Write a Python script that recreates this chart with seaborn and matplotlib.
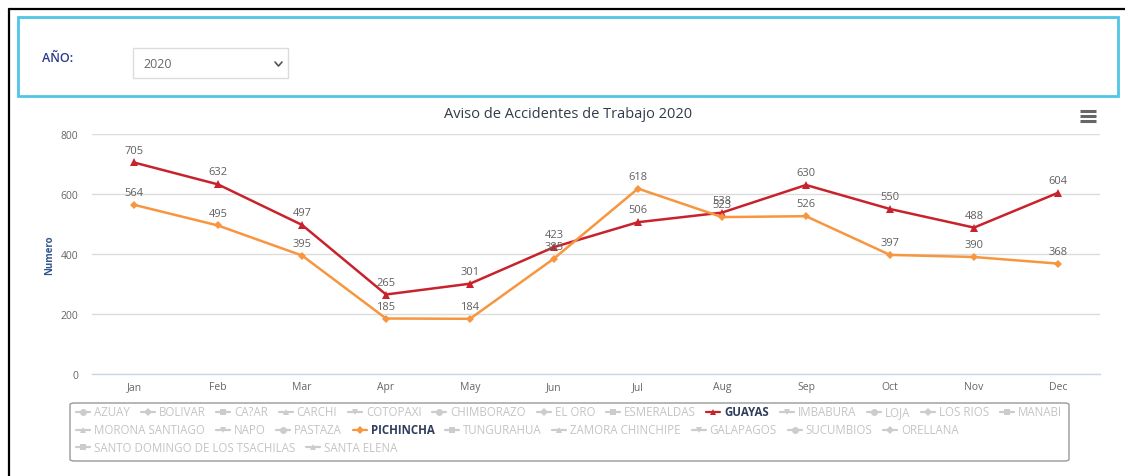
import matplotlib
matplotlib.use("Agg")
import matplotlib.pyplot as plt
import seaborn as sns
import pandas as pd
import numpy as np
from matplotlib.lines import Line2D
from matplotlib.patches import Rectangle, FancyBboxPatch

months = ["Jan", "Feb", "Mar", "Apr", "May", "Jun", "Jul", "Aug", "Sep", "Oct", "Nov", "Dec"]
guayas = [705, 632, 497, 265, 301, 423, 506, 538, 630, 550, 488, 604]
pichincha = [564, 495, 395, 185, 184, 385, 618, 523, 526, 397, 390, 368]
yticks = [0, 200, 400, 600, 800]
provinces_rows = [
    ["AZUAY", "BOLIVAR", "CA?AR", "CARCHI", "COTOPAXI", "CHIMBORAZO", "EL ORO",
     "ESMERALDAS", "GUAYAS", "IMBABURA", "LOJA", "LOS RIOS", "MANABI"],
    ["MORONA SANTIAGO", "NAPO", "PASTAZA", "PICHINCHA", "TUNGURAHUA",
     "ZAMORA CHINCHIPE", "GALAPAGOS", "SUCUMBIOS", "ORELLANA"],
    ["SANTO DOMINGO DE LOS TSACHILAS", "SANTA ELENA"],
]
title = "Aviso de Accidentes de Trabajo 2020"

C_GUAYAS = "#c8232c"
C_PICH = "#f7963f"

sns.set_theme(style="white")
plt.rcParams["font.family"] = ["Open Sans", "DejaVu Sans"]

W, H = 1125, 477
fig = plt.figure(figsize=(W / 100, H / 100), dpi=100)

def fx(x):
    return x / W

def fy(y):
    return 1 - y / H

# outer frame
fig.add_artist(Line2D([fx(9), fx(1125)], [fy(10), fy(10)], color="black", lw=1.6))
fig.add_artist(Line2D([fx(9), fx(9)], [fy(10), fy(477)], color="black", lw=1.6))
# cyan header box
fig.add_artist(Rectangle((fx(18), fy(97)), fx(1118) - fx(18), fy(18) - fy(97),
                         fill=False, edgecolor="#4fc6e6", lw=2.0))
fig.text(fx(42), fy(59), "AÑO:", color="#2b3a8c", fontsize=9, va="center", ha="left",
         fontweight="semibold")
fig.add_artist(Rectangle((fx(133), fy(79)), fx(288) - fx(133), fy(49) - fy(79),
                         fill=False, edgecolor="#dcdcdc", lw=1))
fig.text(fx(143), fy(65), "2020", color="#666666", fontsize=9, va="center", ha="left")
fig.add_artist(Line2D([fx(275), fx(278.5), fx(282)], [fy(63), fy(67), fy(63)],
                      color="#555555", lw=1.2))

# data
df = pd.DataFrame({
    "Mes": months * 2,
    "Numero": guayas + pichincha,
    "Provincia": ["GUAYAS"] * 12 + ["PICHINCHA"] * 12,
})

ax = fig.add_axes([fx(92), fy(375), fx(1100) - fx(92), fy(135) - fy(375)])
sns.lineplot(data=df, x="Mes", y="Numero", hue="Provincia", style="Provincia",
             palette={"GUAYAS": C_GUAYAS, "PICHINCHA": C_PICH},
             markers={"GUAYAS": "^", "PICHINCHA": "D"},
             dashes=False, linewidth=1.8, markersize=6, markeredgewidth=0,
             legend=False, ax=ax, sort=False)
for line in ax.lines:
    if line.get_marker() == "D":
        line.set_markersize(4.5)

for vals in (guayas, pichincha):
    for i, v in enumerate(vals):
        ax.annotate(str(v), (i, v), xytext=(0, 5), textcoords="offset points",
                    ha="center", va="bottom", fontsize=8, color="#606060")

ax.set_xlim(-0.5, 11.5)
ax.set_ylim(0, 800)
ax.set_yticks(yticks)
ax.set_yticklabels([str(t) for t in yticks], fontsize=7.5, color="#666666")
ax.set_xticks(range(12))
ax.set_xticklabels(months, fontsize=7.5, color="#666666")
ax.set_xticks(np.arange(-0.5, 12, 1), minor=True)
ax.tick_params(axis="x", which="major", length=0, pad=5)
ax.tick_params(axis="x", which="minor", length=5, color="#ccd6eb", width=1)
ax.tick_params(axis="y", length=0, pad=10)
ax.grid(axis="y", color="#dcdcdc", lw=1)
ax.grid(axis="x", visible=False)
for s in ["top", "right", "left"]:
    ax.spines[s].set_visible(False)
ax.spines["bottom"].set_color("#ccd6eb")
ax.spines["bottom"].set_linewidth(1)
ax.set_xlabel("")
ax.set_ylabel("Numero", fontsize=7, color="#35558f", fontweight="bold", labelpad=4)

fig.text(fx(568), fy(115), title, ha="center", va="center", fontsize=10.5, color="#333a4a")

# hamburger icon
for yy in (112, 117, 122):
    fig.add_artist(Line2D([fx(1080), fx(1096)], [fy(yy), fy(yy)], color="#666666", lw=2.2,
                          solid_capstyle="butt"))

# legend box
fig.add_artist(FancyBboxPatch((fx(70), fy(462)), fx(1069) - fx(70), fy(404) - fy(462),
                              boxstyle="round,pad=0,rounding_size=0.004",
                              fill=False, edgecolor="#999999", lw=1))

markers_cycle = ["o", "D", "s", "^", "v"]
renderer = fig.canvas.get_renderer()
row_y = [413, 431, 448]
sym_w, sym_gap = 14, 4
fs = 8.3
widths = []
for row in provinces_rows:
    wr = []
    for name in row:
        t = fig.text(0, 0, name, fontsize=fs,
                     fontweight="bold" if name in ("GUAYAS", "PICHINCHA") else "normal")
        wr.append(t.get_window_extent(renderer).width)
        t.remove()
    widths.append(wr)
start_x = 76
end_x = 1062
n0 = len(provinces_rows[0])
total0 = sum(widths[0]) + n0 * (sym_w + sym_gap)
item_gap = (end_x - start_x - total0) / (n0 - 1)

idx = 0
for r, row in enumerate(provinces_rows):
    x = start_x
    y = row_y[r]
    for j, name in enumerate(row):
        m = markers_cycle[idx % 5]
        if name == "GUAYAS":
            col, tcol, wt = C_GUAYAS, "#2f3e5c", "bold"
        elif name == "PICHINCHA":
            col, tcol, wt = C_PICH, "#2f3e5c", "bold"
        else:
            col, tcol, wt = "#cccccc", "#c4c4c4", "normal"
        fig.add_artist(Line2D([fx(x), fx(x + sym_w)], [fy(y), fy(y)], color=col, lw=1.6))
        fig.add_artist(Line2D([fx(x + sym_w / 2)], [fy(y)], marker=m, color=col,
                              markersize=5 if m != "D" else 4.2, markeredgewidth=0))
        fig.text(fx(x + sym_w + sym_gap), fy(y), name, fontsize=fs, color=tcol,
                 fontweight=wt, va="center", ha="left")
        x += sym_w + sym_gap + widths[r][j] + item_gap
        idx += 1

fig.savefig("out.png", dpi=100, facecolor="white")
